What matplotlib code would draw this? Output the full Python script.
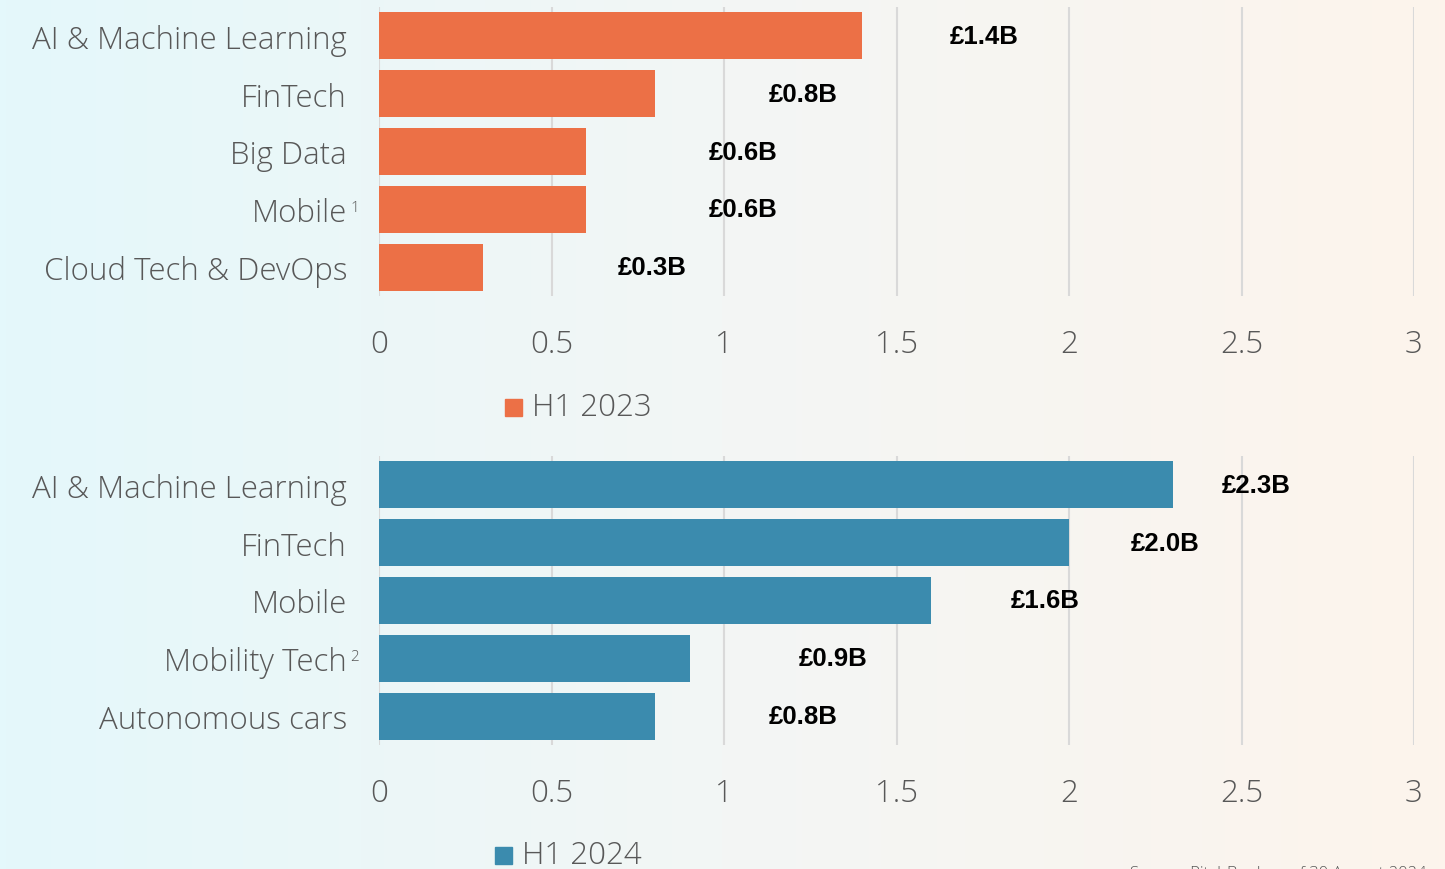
import matplotlib
matplotlib.use("Agg")
import matplotlib.pyplot as plt
import numpy as np
from matplotlib.colors import LinearSegmentedColormap

cats_2023 = ["AI & Machine Learning", "FinTech", "Big Data", "Mobile", "Cloud Tech & DevOps"]
vals_2023 = [1.4, 0.8, 0.6, 0.6, 0.3]
sup_2023 = ["", "", "", "1", ""]
labels_2023 = ["£1.4B", "£0.8B", "£0.6B", "£0.6B", "£0.3B"]

cats_2024 = ["AI & Machine Learning", "FinTech", "Mobile", "Mobility Tech", "Autonomous cars"]
vals_2024 = [2.3, 2.0, 1.6, 0.9, 0.8]
sup_2024 = ["", "", "", "2", ""]
labels_2024 = ["£2.3B", "£2.0B", "£1.6B", "£0.9B", "£0.8B"]

xticks = [0, 0.5, 1, 1.5, 2, 2.5, 3]
xtick_labels = ["0", "0.5", "1", "1.5", "2", "2.5", "3"]

W, H = 1445, 870
fig = plt.figure(figsize=(W / 100, H / 100), dpi=100)

# background gradient
bg = fig.add_axes([0, 0, 1, 1], zorder=-10)
cmap = LinearSegmentedColormap.from_list("bg", ["#e4f8fb", "#f3f6f5", "#fdf4ec"])
grad = np.linspace(0, 1, 256)[None, :]
bg.imshow(grad, aspect="auto", cmap=cmap, extent=[0, 1, 0, 1])
bg.axis("off")

FONT = "Open Sans"
FW = "light"
FS = 22.5
GRAY = "#585858"


def fy(py):
    return 1 - py / H


def draw(ax, cats, vals, sups, labels, color, legend_text, leg_sq_x, leg_y):
    y = np.arange(len(cats))
    ax.barh(y, vals, height=0.81, color=color, zorder=3)
    ax.set_xlim(0, 3)
    ax.set_ylim(len(cats) - 0.5, -0.5)
    ax.set_facecolor("none")
    for s in ax.spines.values():
        s.set_visible(False)
    ax.set_xticks(xticks)
    ax.set_xticklabels(xtick_labels, fontfamily=FONT, fontweight=FW, fontsize=FS, color=GRAY)
    ax.set_yticks(y)
    ax.set_yticklabels(cats, fontfamily=FONT, fontweight=FW, fontsize=FS, color=GRAY)
    ax.tick_params(axis="x", length=0, pad=23)
    ax.tick_params(axis="y", length=0, pad=23)
    ax.grid(axis="x", color="#d9d9d9", linewidth=1.5, zorder=0)
    ax.set_axisbelow(True)
    for yi, v, lab in zip(y, vals, labels):
        ax.text(0.875 * v + 0.43, yi, lab, ha="left", va="center",
                fontfamily="Liberation Sans", fontweight="bold", fontsize=18.5, color="black")
    fig.canvas.draw()
    renderer = fig.canvas.get_renderer()
    for tl, sp in zip(ax.get_yticklabels(), sups):
        if sp:
            bb = tl.get_window_extent(renderer)
            fig.text((bb.x1 + 3) / W, (bb.y1 - 3) / H, sp, ha="left", va="top",
                     fontfamily=FONT, fontweight=FW, fontsize=11, color=GRAY)
    # legend
    fig.patches.append(plt.Rectangle((leg_sq_x / W, fy(leg_y + 9)), 17 / W, 17 / H,
                                     transform=fig.transFigure, color=color, figure=fig))
    fig.text((leg_sq_x + 27) / W, fy(leg_y), legend_text, ha="left", va="center",
             fontfamily=FONT, fontweight=FW, fontsize=FS, color=GRAY)


left = 379 / W
right = 1414 / W
ax1 = fig.add_axes([left, fy(297), right - left, (297 - 8) / H])
ax2 = fig.add_axes([left, fy(746), right - left, (746 - 457) / H])

draw(ax1, cats_2023, vals_2023, sup_2023, labels_2023, "#ec7046", "H1 2023", 505, 408)
draw(ax2, cats_2024, vals_2024, sup_2024, labels_2024, "#3b8bae", "H1 2024", 495, 856)

fig.text(1427 / W, fy(874), "Source: PitchBook as of 30 August 2024", ha="right", va="center",
         fontfamily=FONT, fontweight=FW, fontsize=12, color=GRAY)

fig.savefig("out.png", dpi=100)
